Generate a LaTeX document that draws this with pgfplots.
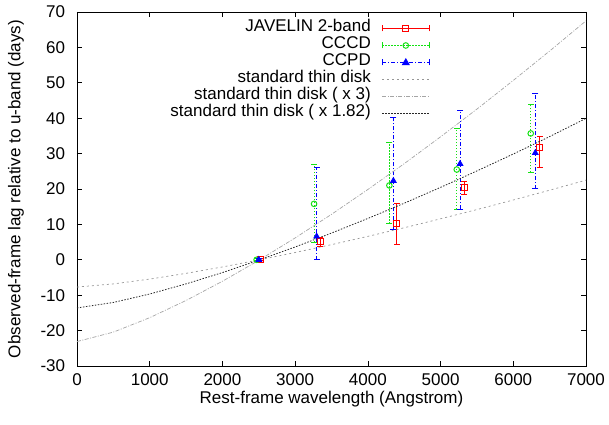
\documentclass[border=0pt]{standalone}
\usepackage{fontspec}
\setmainfont{Liberation Sans}
\usepackage{pgfplots}
\pgfplotsset{compat=1.18}
\definecolor{cred}{RGB}{255,0,0}
\definecolor{cgreen}{RGB}{20,225,20}
\definecolor{cblue}{RGB}{0,0,255}
\definecolor{cgray}{RGB}{150,150,150}
\definecolor{cgrayb}{RGB}{165,165,165}
\definecolor{cdark}{RGB}{40,40,40}
\pgfplotsset{
  errlegsq/.style={legend image code/.code={
    \draw[##1] (0bp,0bp)--(47bp,0bp);
    \draw[##1, solid] (0bp,-3bp)--(0bp,3bp) (47bp,-3bp)--(47bp,3bp);
    \draw[##1, solid] (20.5bp,-3bp) rectangle (26.5bp,3bp);}},
  errlegci/.style={legend image code/.code={
    \draw[##1] (0bp,0bp)--(47bp,0bp);
    \draw[##1, solid] (0bp,-3bp)--(0bp,3bp) (47bp,-3bp)--(47bp,3bp);
    \draw[##1, solid] (23.5bp,0bp) circle[radius=2.8bp];}},
  errlegtr/.style={legend image code/.code={
    \draw[##1] (0bp,0bp)--(47bp,0bp);
    \draw[##1, solid] (0bp,-3bp)--(0bp,3bp) (47bp,-3bp)--(47bp,3bp);
    \fill[##1, solid] (20.2bp,-2.2bp) -- (26.8bp,-2.2bp) -- (23.5bp,3.5bp) -- cycle;}},
}
\begin{document}
\fontsize{17bp}{20bp}\selectfont
\begin{tikzpicture}
\path[use as bounding box] (-77bp,-59bp) rectangle (532bp,366bp);
\begin{axis}[
  at={(0,0)}, anchor=south west,
  scale only axis, width=509bp, height=354bp,
  xmin=0, xmax=7000, ymin=-30, ymax=70,
  clip=false,
  xtick={0,1000,2000,3000,4000,5000,6000,7000},
  xticklabels={0,1000,2000,3000,4000,5000,6000,7000},
  ytick={-30,-20,-10,0,10,20,30,40,50,60,70},
  yticklabels={-30,-20,-10,0,10,20,30,40,50,60,70},
  tick align=inside, major tick length=5bp,
  tick style={black, line width=0.6bp},
  axis line style={black, line width=0.8bp},
  yticklabel style={xshift=-6bp},
  xticklabel style={yshift=-2bp},
  every axis x label/.style={at={([yshift=-33bp]axis description cs:0.5,0)}, anchor=center},
  every axis y label/.style={at={([xshift=-61bp]axis description cs:0,0.5)}, anchor=center, rotate=90},
  xlabel={Rest-frame wavelength (Angstrom)},
  ylabel={Observed-frame lag relative to u-band (days)},
  unbounded coords=jump,
  legend image code/.code={\draw[#1] (0bp,0bp) -- (47bp,0bp);},
  legend style={draw=none, fill=none, at={(axis cs:4855,67.8)}, anchor=north east,
    inner sep=0pt, column sep=11bp, row sep=0pt,
    nodes={inner sep=0pt, text height=12bp, text depth=5bp}},
  legend plot pos=right, legend cell align=right,
]
\addlegendimage{cred, line width=1bp, solid, errlegsq}
\addlegendentry{JAVELIN 2-band}
\addlegendimage{cgreen, line width=1bp, dash pattern=on 1.5bp off 1.5bp, errlegci}
\addlegendentry{CCCD}
\addlegendimage{cblue, line width=1bp, dash pattern=on 4bp off 2bp on 1bp off 2bp, errlegtr}
\addlegendentry{CCPD}

% ---- JAVELIN 2-band: error bars (low, high), caps, points
\addplot[forget plot, cred, line width=1bp, solid] coordinates {
(2530,-0.3) (2530,0.3) (2530,nan)
(3342,3.8) (3342,6.3) (3342,nan)
(4397,4.3) (4397,16.0) (4397,nan)
(5323,18.4) (5323,22.2) (5323,nan)
(6363,26.1) (6363,34.8)};
\addplot[forget plot, only marks, cred, mark=-, mark size=3bp, mark options={solid, line width=1bp}] coordinates {
(2530,-0.3) (2530,0.3) (3342,3.8) (3342,6.3) (4397,4.3) (4397,16.0)
(5323,18.4) (5323,22.2) (6363,26.1) (6363,34.8)};
\addplot[forget plot, only marks, cred, mark=square, mark size=3bp, mark options={solid, line width=1bp}] coordinates {
(2530,0) (3342,5.1) (4397,10.2) (5323,20.3) (6363,31.7)};

% ---- CCCD
\addplot[forget plot, cgreen, line width=1bp, dash pattern=on 1.5bp off 1.5bp] coordinates {
(2470,-0.3) (2470,0.3) (2470,nan)
(3260,5.0) (3260,26.8) (3260,nan)
(4296,10.2) (4296,33.2) (4296,nan)
(5223,14.3) (5223,37.1) (5223,nan)
(6240,24.7) (6240,43.9)};
\addplot[forget plot, only marks, cgreen, mark=-, mark size=3bp, mark options={solid, line width=1bp}] coordinates {
(2470,-0.3) (2470,0.3) (3260,5.0) (3260,26.8) (4296,10.2) (4296,33.2)
(5223,14.3) (5223,37.1) (6240,24.7) (6240,43.9)};
\addplot[forget plot, only marks, cgreen, mark=o, mark size=2.8bp, mark options={solid, line width=1bp}] coordinates {
(2470,0) (3260,15.8) (4296,21.0) (5223,25.5) (6240,35.7)};

% ---- CCPD
\addplot[forget plot, cblue, line width=1bp, dash pattern=on 4bp off 2bp on 1bp off 2bp] coordinates {
(2500,-0.3) (2500,0.3) (2500,nan)
(3296,0.0) (3296,26.0) (3296,nan)
(4351,8.6) (4351,40.1) (4351,nan)
(5268,14.3) (5268,42.3) (5268,nan)
(6303,20.1) (6303,47.1)};
\addplot[forget plot, only marks, cblue, mark=-, mark size=3bp, mark options={solid, line width=1bp}] coordinates {
(2500,-0.3) (2500,0.3) (3296,0.0) (3296,26.0) (4351,8.6) (4351,40.1)
(5268,14.3) (5268,42.3) (6303,20.1) (6303,47.1)};
\addplot[forget plot, only marks, cblue, mark=triangle*, mark size=3.3bp, mark options={solid, line width=0.8bp}] coordinates {
(2500,0) (3296,6.6) (4351,22.3) (5268,27.1) (6303,30.2)};

% ---- model curves
\addplot[cgray, line width=0.7bp, dash pattern=on 2bp off 3bp] coordinates {
(0,-7.70) (500,-6.81) (1000,-5.45) (1500,-3.83) (2000,-2.02) (2500,-0.05)
(3000,2.06) (3500,4.28) (4000,6.62) (4500,9.05) (5000,11.58) (5500,14.19)
(6000,16.89) (6500,19.66) (7000,22.50)};
\addlegendentry{standard thin disk}
\addplot[cgrayb, line width=0.7bp, dash pattern=on 4bp off 1.5bp on 1bp off 1.5bp] coordinates {
(0,-23.10) (500,-20.43) (1000,-16.35) (1500,-11.49) (2000,-6.06) (2500,-0.15)
(3000,6.18) (3500,12.84) (4000,19.86) (4500,27.15) (5000,34.74) (5500,42.57)
(6000,50.67) (6500,58.98) (7000,67.50)};
\addlegendentry{standard thin disk ( x 3)}
\addplot[cdark, line width=0.8bp, dash pattern=on 1.5bp off 1.5bp] coordinates {
(0,-13.60) (500,-12.05) (1000,-9.66) (1500,-6.80) (2000,-3.62) (2500,-0.09)
(3000,3.62) (3500,7.55) (4000,11.68) (4500,15.98) (5000,20.46) (5500,25.10)
(6000,29.88) (6500,34.80) (7000,39.95)};
\addlegendentry{standard thin disk ( x 1.82)}
\end{axis}
\end{tikzpicture}
\end{document}
